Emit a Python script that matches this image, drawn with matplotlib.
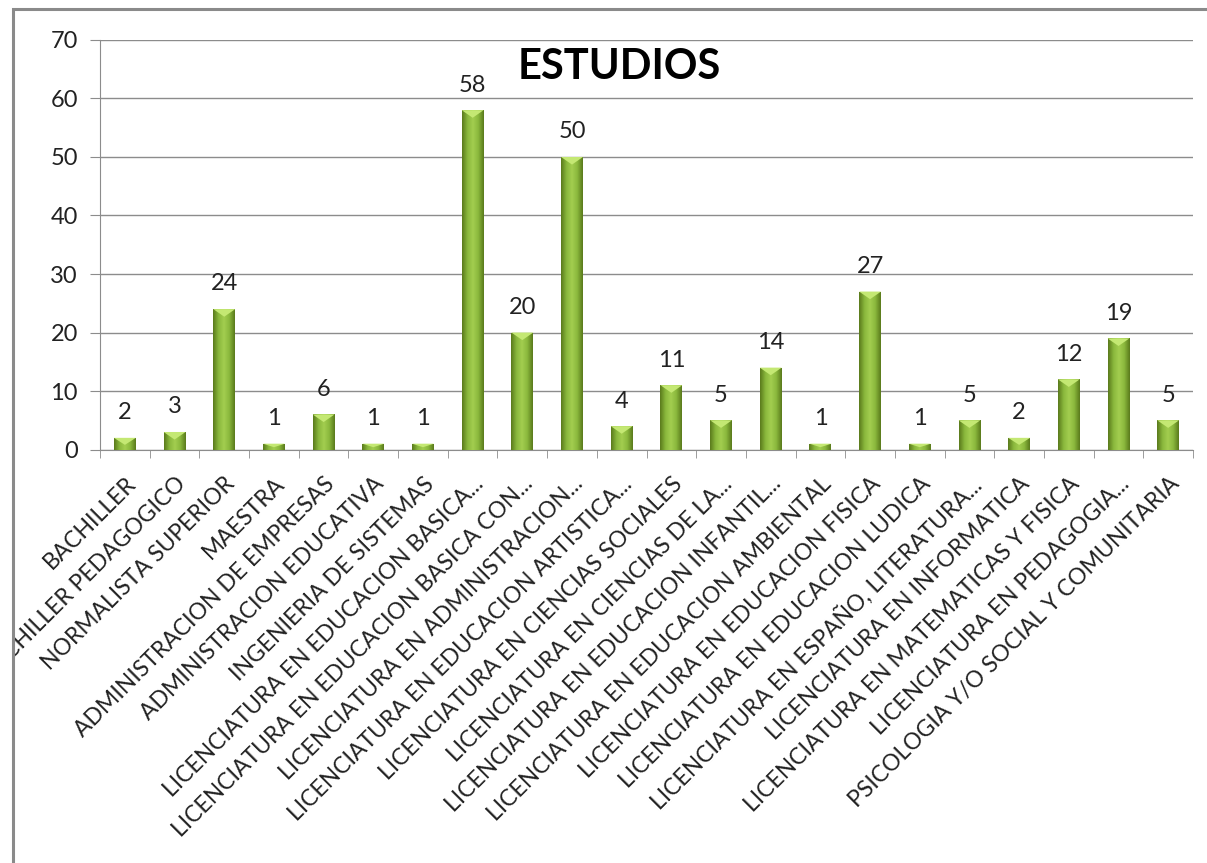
import numpy as np
import matplotlib
matplotlib.use("Agg")
import matplotlib.pyplot as plt
from matplotlib.colors import LinearSegmentedColormap
from matplotlib.patches import Rectangle, Polygon

# Datos: estudios
categorias = [
    "BACHILLER",
    "BACHILLER PEDAGOGICO",
    "NORMALISTA SUPERIOR",
    "MAESTRA",
    "ADMINISTRACION DE EMPRESAS",
    "ADMINISTRACION EDUCATIVA",
    "INGENIERIA DE SISTEMAS",
    "LICENCIATURA EN EDUCACION BASICA...",
    "LICENCIATURA EN EDUCACION BASICA CON...",
    "LICENCIATURA EN ADMINISTRACION...",
    "LICENCIATURA EN EDUCACION ARTISTICA...",
    "LICENCIATURA EN CIENCIAS SOCIALES",
    "LICENCIATURA EN CIENCIAS DE LA...",
    "LICENCIATURA EN EDUCACION INFANTIL...",
    "LICENCIATURA EN EDUCACION AMBIENTAL",
    "LICENCIATURA EN EDUCACION FISICA",
    "LICENCIATURA EN EDUCACION LUDICA",
    "LICENCIATURA EN ESPAÑO, LITERATURA...",
    "LICENCIATURA EN INFORMATICA",
    "LICENCIATURA EN MATEMATICAS Y FISICA",
    "LICENCIATURA EN PEDAGOGIA...",
    "PSICOLOGIA Y/O SOCIAL Y COMUNITARIA",
]
valores = [2, 3, 24, 1, 6, 1, 1, 58, 20, 50, 4, 11, 5, 14, 1, 27, 1, 5, 2, 12, 19, 5]
yticks = [0, 10, 20, 30, 40, 50, 60, 70]

plt.rcParams['font.family'] = ['Lato', 'DejaVu Sans']

fig = plt.figure(figsize=(12.07, 8.63), dpi=100)
ax = fig.add_axes([0.0829, 0.4791, 0.9055, 0.4746])

x = np.arange(len(valores))
barras = ax.bar(x, valores, width=0.44, color="#86b03a", zorder=3)

# degradado tipo bisel en cada barra
cmap = LinearSegmentedColormap.from_list("verde", ["#5a7a1c", "#8ab83c", "#a3ce50", "#8ab83c", "#5a7a1c"])
grad = np.linspace(0, 1, 64).reshape(1, -1)
for b in barras:
    x0, w, h = b.get_x(), b.get_width(), b.get_height()
    im = ax.imshow(grad, cmap=cmap, aspect="auto", extent=(x0, x0 + w, 0, h), zorder=4)
    im.set_clip_path(b)
    th = min(1.3, h * 0.6)
    tri = Polygon([(x0, h), (x0 + w, h), (x0 + w / 2, h - th)], closed=True,
                  facecolor="#c4e873", edgecolor="none", zorder=5)
    ax.add_patch(tri)

for xi, v in zip(x, valores):
    ax.text(xi, v + 2.5, str(v), ha="center", va="bottom", fontsize=17, color="#222222", zorder=6)

ax.set_xlim(-0.5, len(valores) - 0.5)
ax.set_ylim(0, 70)
ax.set_yticks(yticks)
ax.tick_params(axis="y", length=7, color="#8c8c8c", labelsize=17, pad=9, labelcolor="#222222")
ax.yaxis.grid(True, color="#8c8c8c", linewidth=1, zorder=0)
ax.set_axisbelow(True)

ax.set_xticks(x)
ax.set_xticklabels(categorias, rotation=45, ha="right", va="top", rotation_mode="anchor", fontsize=16.5, color="#222222")
ax.tick_params(axis="x", which="major", length=0, pad=17)
ax.set_xticks(np.arange(-0.5, len(valores)), minor=True)
ax.tick_params(axis="x", which="minor", length=6, color="#8c8c8c")

for s in ["top", "right"]:
    ax.spines[s].set_visible(False)
ax.spines["left"].set_color("#8c8c8c")
ax.spines["bottom"].set_color("#8c8c8c")

ax.text(0.475, 0.935, "ESTUDIOS", transform=ax.transAxes, ha="center", va="center",
        fontsize=30, fontweight="bold", color="black")

# marco del gráfico
marco = Rectangle((0.0105, -0.05), 1.1, 0.0487 + 0.991, transform=fig.transFigure,
                  fill=False, edgecolor="#8a8a8a", linewidth=2.2)
fig.patches.append(marco)
clip = Rectangle((0.0105, 0.0), 1.0, 0.991, transform=fig.transFigure)
for lbl in ax.get_xticklabels():
    lbl.set_clip_on(True)
    lbl.set_clip_path(clip)

fig.savefig("out.png", dpi=100)
